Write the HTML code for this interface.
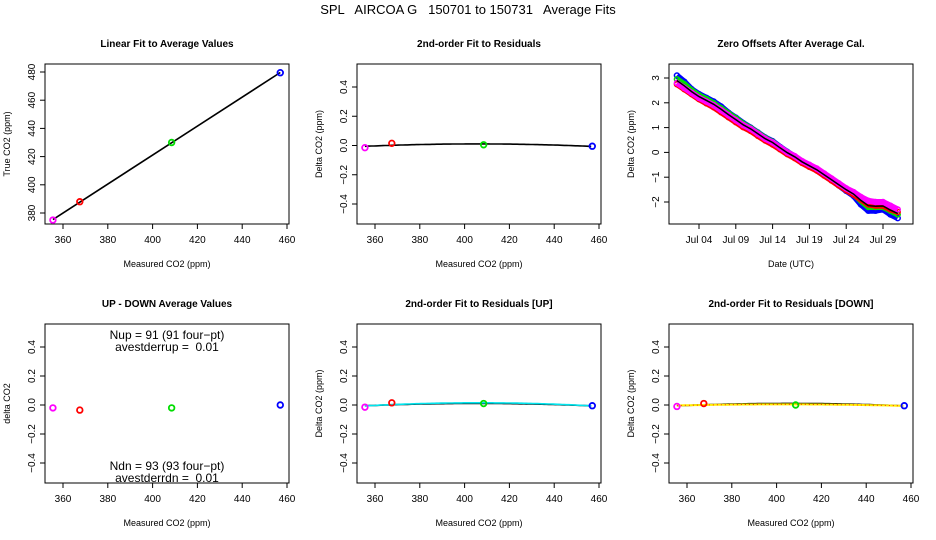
<!DOCTYPE html>
<html><head><meta charset="utf-8"><style>
body{margin:0;background:#fff;}
svg{display:block;font-family:"Liberation Sans",sans-serif;}
.pre{white-space:pre;}
</style></head><body>
<svg id="c" width="936" height="540" viewBox="0 0 936 540"></svg>
<script>
// ---- data ----
const measured = [355.5, 367.5, 408.5, 457.0];
const trueVals = [375.0, 388.0, 430.0, 479.5];
const residuals = [-0.015, 0.015, 0.005, -0.005];
const residualsUp = [-0.015, 0.015, 0.01, -0.005];
const residualsDown = [-0.01, 0.01, 0.0, -0.005];
const upDown = [-0.02, -0.035, -0.02, 0.0];
const pointColors = ["#ff00ff", "#ff0000", "#00dd00", "#0000ff"];
const co2Ticks = [360, 380, 400, 420, 440, 460];
const trueTicks = [380, 400, 420, 440, 460, 480];
const resTicks = [-0.4, -0.2, 0.0, 0.2, 0.4];
const offTicks = [-2, -1, 0, 1, 2, 3];
const dateTicks = [4, 9, 14, 19, 24, 29];
const dateTickLabels = ["Jul 04", "Jul 09", "Jul 14", "Jul 19", "Jul 24", "Jul 29"];
const days = [1,2,3,4,5,6,7,8,9,10,11,12,13,14,15,16,17,18,19,20,21,22,23,24,25,26,27,28,29,30,31];
const offMagenta = [2.8,2.6,2.4,2.2,2.05,1.9,1.7,1.5,1.3,1.1,0.95,0.75,0.55,0.4,0.2,0.0,-0.15,-0.35,-0.5,-0.65,-0.85,-1.05,-1.25,-1.45,-1.6,-1.8,-1.95,-2.0,-2.0,-2.15,-2.3];
const offRed = [2.75,2.55,2.35,2.15,1.98,1.82,1.62,1.42,1.22,1.02,0.87,0.67,0.48,0.32,0.13,-0.07,-0.23,-0.42,-0.58,-0.73,-0.93,-1.13,-1.33,-1.52,-1.7,-1.9,-2.1,-2.15,-2.15,-2.3,-2.4];
const offGreen = [2.95,2.75,2.5,2.3,2.15,1.98,1.78,1.57,1.37,1.15,0.98,0.78,0.58,0.42,0.2,0.0,-0.17,-0.37,-0.53,-0.7,-0.9,-1.1,-1.3,-1.5,-1.68,-1.95,-2.2,-2.2,-2.2,-2.35,-2.5];
const offBlue = [3.1,2.85,2.55,2.35,2.2,2.05,1.85,1.6,1.4,1.18,1.0,0.8,0.6,0.45,0.22,0.02,-0.16,-0.38,-0.55,-0.72,-0.92,-1.12,-1.33,-1.55,-1.75,-2.1,-2.35,-2.35,-2.3,-2.5,-2.65];

const svg = document.getElementById('c');
const NS = "http://www.w3.org/2000/svg";
function mk(tag, attrs, parent, text){
  const e = document.createElementNS(NS, tag);
  for (const k in attrs) e.setAttribute(k, attrs[k]);
  if (text !== undefined) e.textContent = text;
  (parent || svg).appendChild(e);
  return e;
}
function scale(d0, d1, r0, r1){ return v => r0 + (v - d0) * (r1 - r0) / (d1 - d0); }
function fmt(v){ return (Math.abs(v) < 1e-9 ? 0 : v).toFixed(1).replace('-', '\u2212'); }

function quadFit(xs, ys){
  const m = xs.reduce((a,b)=>a+b,0)/xs.length;
  let S=[[0,0,0],[0,0,0],[0,0,0]], R=[0,0,0];
  xs.forEach((x,i)=>{const t=x-m; const p=[1,t,t*t]; for(let r=0;r<3;r++){R[r]+=p[r]*ys[i]; for(let c=0;c<3;c++) S[r][c]+=p[r]*p[c];}});
  const A = S.map((row,i)=>row.concat([R[i]]));
  for(let i=0;i<3;i++){ for(let j=i+1;j<3;j++){ const f=A[j][i]/A[i][i]; for(let k=i;k<4;k++) A[j][k]-=f*A[i][k]; } }
  const c=[0,0,0];
  for(let i=2;i>=0;i--){ let s=A[i][3]; for(let k=i+1;k<3;k++) s-=A[i][k]*c[k]; c[i]=s/A[i][i]; }
  return x => { const t=x-m; return c[0]+c[1]*t+c[2]*t*t; };
}

function panel(o){
  const g = mk('g', {}, svg);
  
  
  const {x0,x1,y0,y1} = o;
  const t = mk('text', {x:(x0+x1)/2, y:y0-17, 'text-anchor':'middle', 'font-size':10, 'font-weight':'bold'}, g, o.title);
  
  
  const box = mk('rect', {x:x0, y:y0, width:x1-x0, height:y1-y0, fill:'none', stroke:'#000', 'stroke-width':1}, g);
  
  
  o.xticks.forEach((v,i)=>{
    const px = o.sx(v);
    mk('line', {x1:px, x2:px, y1:y1, y2:y1+5, stroke:'#000'}, g);
    const l = mk('text', {x:px, y:y1+19, 'text-anchor':'middle', 'font-size':10}, g, o.xlabels ? o.xlabels[i] : String(v));
    
    
  });
  o.yticks.forEach(v=>{
    const py = o.sy(v);
    mk('line', {x1:x0-5, x2:x0, y1:py, y2:py, stroke:'#000'}, g);
    const l = mk('text', {x:x0-10, y:py, 'text-anchor':'middle', 'font-size':10, transform:`rotate(-90 ${x0-10} ${py})`}, g, o.yfmt(v));
    
    
  });
  const xt = mk('text', {x:(x0+x1)/2, y:y1+43, 'text-anchor':'middle', 'font-size':9}, g, o.xtitle);
  
  
  const yx = x0-35, yy=(y0+y1)/2;
  const yt = mk('text', {x:yx, y:yy, 'text-anchor':'middle', 'font-size':9, transform:`rotate(-90 ${yx} ${yy})`}, g, o.ytitle);
  
  
  return g;
}
function points(g, xs, ys, sx, sy){
  xs.forEach((x,i)=>{
    const c = mk('circle', {cx:sx(x), cy:sy(ys[i]), r:2.8, fill:'none', stroke:pointColors[i], 'stroke-width':1.8}, g);
    
    
  });
}
function curve(g, f, sx, sy, color, width, dash){
  let d='';
  for(let x=355.5; x<=457.01; x+=1){ d += (d?'L':'M') + sx(x).toFixed(1) + ',' + sy(f(x)).toFixed(1); }
  const p = mk('path', {d, fill:'none', stroke:color, 'stroke-width':width}, g);
  if (dash) p.setAttribute('stroke-dasharray', dash);
  
  
}

// main title
const mt = mk('text', {x:468, y:14, 'text-anchor':'middle', 'font-size':13, class:'pre'}, svg, 'SPL   AIRCOA G   150701 to 150731   Average Fits');



const top0=64, top1=224, bot0=324, bot1=483;
function co2X(off){ return scale(360, 460, 63+off, 287+off); }

// Panel 1
{
  const sx = co2X(0), sy = scale(380, 480, 213, 72);
  const g = panel({name:'linear-fit-panel', title:'Linear Fit to Average Values', x0:45, x1:289, y0:top0, y1:top1, sx, sy, xticks:co2Ticks, yticks:trueTicks, yfmt:v=>String(v), xtitle:'Measured CO2 (ppm)', ytitle:'True CO2 (ppm)'});
  const n=measured.length; const mx=measured.reduce((a,b)=>a+b)/n, my=trueVals.reduce((a,b)=>a+b)/n;
  let sxy=0,sxx=0; measured.forEach((x,i)=>{sxy+=(x-mx)*(trueVals[i]-my); sxx+=(x-mx)*(x-mx);});
  const b=sxy/sxx, a=my-b*mx;
  const l = mk('line', {x1:sx(355.5), y1:sy(a+b*355.5), x2:sx(457), y2:sy(a+b*457), stroke:'#000', 'stroke-width':1.6}, g);
  
  
  points(g, measured, trueVals, sx, sy);
}
// Panel 2
{
  const sx = co2X(312), sy = scale(-0.4, 0.4, 204, 87);
  const g = panel({name:'residual-fit-panel', title:'2nd-order Fit to Residuals', x0:357, x1:601, y0:top0, y1:top1, sx, sy, xticks:co2Ticks, yticks:resTicks, yfmt:fmt, xtitle:'Measured CO2 (ppm)', ytitle:'Delta CO2 (ppm)'});
  curve(g, quadFit(measured, residuals), sx, sy, '#000', 1.6);
  points(g, measured, residuals, sx, sy);
}
// Panel 3
{
  const sx = scale(4, 29, 699, 883), sy = scale(-2, 3, 202, 78);
  const g = panel({name:'zero-offsets-panel', title:'Zero Offsets After Average Cal.', x0:669, x1:913, y0:top0, y1:top1, sx, sy, xticks:dateTicks, xlabels:dateTickLabels, yticks:offTicks, yfmt:v=>String(v).replace('-', '\u2212'), xtitle:'Date (UTC)', ytitle:'Delta CO2 (ppm)'});
  [[offBlue,'#0000ff'],[offGreen,'#00dd00'],[offRed,'#ff0000'],[offMagenta,'#ff00ff']].forEach(([arr,col])=>{
    const d = arr.map((v,i)=>(i?'L':'M')+sx(days[i]).toFixed(1)+','+sy(v).toFixed(1)).join('');
    const p = mk('path', {d, fill:'none', stroke:col, 'stroke-width':6, 'stroke-linejoin':'round'}, g);
    
    
    arr.forEach((v,i)=>{
      const c = mk('circle', {cx:sx(days[i]), cy:sy(v), r:2.5, fill:'none', stroke:col, 'stroke-width':1.5}, g);
      
      
    });
  });
  const avg = days.map((d,i)=>(offBlue[i]+offGreen[i]+offRed[i]+offMagenta[i])/4);
  const d = avg.map((v,i)=>(i?'L':'M')+sx(days[i]).toFixed(1)+','+sy(v).toFixed(1)).join('');
  const p = mk('path', {d, fill:'none', stroke:'#000', 'stroke-width':1.5}, g);
  
  
}
// Panel 4
{
  const sx = co2X(0), sy = scale(-0.4, 0.4, bot1-20, bot0+23);
  const g = panel({name:'up-down-panel', title:'UP - DOWN Average Values', x0:45, x1:289, y0:bot0, y1:bot1, sx, sy, xticks:co2Ticks, yticks:resTicks, yfmt:fmt, xtitle:'Measured CO2 (ppm)', ytitle:'delta CO2'});
  points(g, measured, upDown, sx, sy);
  [['Nup = 91 (91 four\u2212pt)',339],['avestderrup =  0.01',351],['Ndn = 93 (93 four\u2212pt)',470],['avestderrdn =  0.01',482]].forEach(([s,y])=>{
    const t = mk('text', {x:167, y:y, 'text-anchor':'middle', 'font-size':12, class:'pre'}, g, s);
    
    
  });
}
// Panel 5
{
  const sx = co2X(312), sy = scale(-0.4, 0.4, bot1-20, bot0+23);
  const g = panel({name:'up-residual-panel', title:'2nd-order Fit to Residuals [UP]', x0:357, x1:601, y0:bot0, y1:bot1, sx, sy, xticks:co2Ticks, yticks:resTicks, yfmt:fmt, xtitle:'Measured CO2 (ppm)', ytitle:'Delta CO2 (ppm)'});
  curve(g, quadFit(measured, residuals), sx, sy, '#000', 1.6);
  curve(g, quadFit(measured, residualsUp), sx, sy, '#00e5ee', 1.6);
  points(g, measured, residualsUp, sx, sy);
}
// Panel 6
{
  const sx = co2X(624), sy = scale(-0.4, 0.4, bot1-20, bot0+23);
  const g = panel({name:'down-residual-panel', title:'2nd-order Fit to Residuals [DOWN]', x0:669, x1:913, y0:bot0, y1:bot1, sx, sy, xticks:co2Ticks, yticks:resTicks, yfmt:fmt, xtitle:'Measured CO2 (ppm)', ytitle:'Delta CO2 (ppm)'});
  curve(g, quadFit(measured, residuals), sx, sy, '#000', 1.6);
  curve(g, quadFit(measured, residualsDown), sx, sy, '#ffee00', 2);
  curve(g, quadFit(measured, residualsDown), sx, sy, '#ff3300', 1, '1 3');
  points(g, measured, residualsDown, sx, sy);
}
</script>
</body></html>
